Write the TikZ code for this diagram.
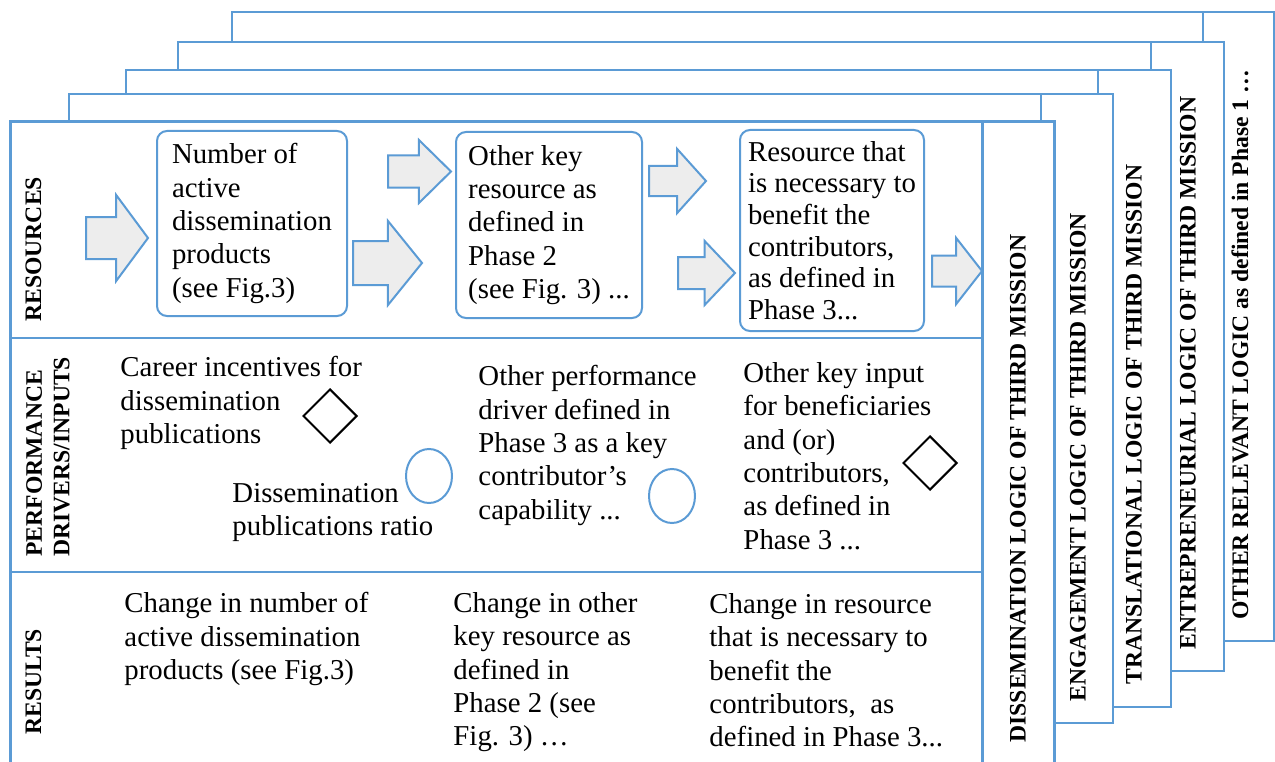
\documentclass[tikz,border=0pt]{standalone}
\usepackage{fontspec}
\setmainfont{Liberation Serif}
\usetikzlibrary{shapes.geometric,shapes.arrows}
\definecolor{frameblue}{HTML}{5B9BD5}
\definecolor{arrowgray}{HTML}{EDEDED}
\newcommand{\pxu}{0.4167pt}

\begin{document}
\begin{tikzpicture}[x=0.4167pt,y=-0.4167pt]
\tikzstyle{frame}=[draw=frameblue,line width=2*\pxu,fill=white]
\tikzstyle{mainframe}=[draw=frameblue,line width=3*\pxu,fill=white]
\tikzstyle{sepline}=[draw=frameblue,line width=2*\pxu]
\tikzstyle{logic}=[rotate=90,anchor=west,inner sep=0,font=\fontsize{9.85}{11.5}\selectfont\bfseries]
\tikzstyle{rowlabel}=[logic,align=left]
\tikzstyle{resbox}=[draw=frameblue,line width=2*\pxu,rounded corners=10*\pxu,align=left,inner sep=0,font=\fontsize{12}{13.9}\selectfont]
\tikzstyle{txt}=[anchor=north west,inner sep=0,align=left,font=\fontsize{12}{13.9}\selectfont]
\tikzstyle{blockarrow}=[single arrow,draw=frameblue,fill=arrowgray,line width=2*\pxu,anchor=tail,inner xsep=0]
\tikzstyle{ratio}=[ellipse,draw=frameblue,line width=2*\pxu,minimum width=46*\pxu,minimum height=54*\pxu,inner sep=0]
\tikzstyle{incentive}=[diamond,draw=black,line width=2*\pxu,minimum width=54*\pxu,minimum height=54*\pxu,inner sep=0]

\useasboundingbox (0,0) rectangle (1275,762);

\foreach \l/\t/\s/\r/\b in {232/12/1203/1273.5/641,178/42/1151/1224/671,126/70/1098/1171/707,69/94/1041/1113/723}{
  \draw[frame] (\l,\t) rectangle (\r,\b);
  \draw[sepline] (\s,\t) -- (\s,\b);
}
\draw[mainframe] (10,122) rectangle (1054,768);
\draw[sepline,line width=3*\pxu] (982,122) -- (982,768);
\draw[sepline] (10,338) -- (982,338);
\draw[sepline] (10,572) -- (982,572);

\node[logic] (dissemination) at (1018,743) {DISSEMINATION LOGIC OF THIRD MISSION};
\node[logic] (engagement) at (1078,702) {ENGAGEMENT LOGIC OF THIRD MISSION};
\node[logic] (translational) at (1134,685) {TRANSLATIONAL LOGIC OF THIRD MISSION};
\node[logic] (entrepreneurial) at (1188,650) {ENTREPRENEURIAL LOGIC OF THIRD MISSION};
\node[logic] (otherlogic) at (1240,620) {OTHER RELEVANT LOGIC as defined in Phase 1 …};

\node[rowlabel] (resources) at (33.5,322) {RESOURCES};
\node[rowlabel] (drivers) at (48,557) {PERFORMANCE\\DRIVERS/INPUTS};
\node[rowlabel] (results) at (33.5,735) {RESULTS};

\node[resbox,minimum width=190*\pxu,minimum height=185*\pxu] (numprod) at (252,223.5)
  {Number of\\active\\dissemination\\products\\(see Fig.3)};
\node[resbox,minimum width=186*\pxu,minimum height=186*\pxu] (otherres) at (549,225)
  {Other key\\resource as\\defined in\\Phase 2\\(see Fig. 3) ...};
\node[resbox,minimum width=184*\pxu,minimum height=201*\pxu,font=\fontsize{12}{13.2}\selectfont] (benefit) at (832,230.5)
  {Resource that\\is necessary to\\benefit the\\contributors,\\as defined in\\Phase 3...};

\foreach \n/\x/\y/\h/\s/\e/\a in {arrA/85/238/62/40/22/107,arrB/387/171.5/63/30/15.5/89,arrC/352/263/69/42/20/102,arrD/648/181/57/28/17/96,arrE/677/273/57/30/16/93,arrF/931/271/50/29/17.5/104}
  \node[blockarrow,minimum height=\h*\pxu,inner ysep=\s/2*\pxu,single arrow head extend=\e*\pxu,single arrow tip angle=\a] (\n) at (\x,\y) {};

\node[txt] (careertxt) at (120,356) {Career incentives for\\dissemination\\publications};
\node[incentive] (career) at (330,416) {};
\node[txt] (ratiotxt) at (232,483) {Dissemination\\publications ratio};
\node[ratio] (pubratio) at (429,476) {};
\node[txt] (drivertxt) at (478,365) {Other performance\\driver defined in\\Phase 3 as a key\\contributor’s\\capability ...};
\node[ratio] (capab) at (672,496) {};
\node[txt] (inputtxt) at (743,362) {Other key input\\for beneficiaries\\and (or)\\contributors,\\as defined in\\Phase 3 ...};
\node[incentive] (keyinput) at (930,463) {};

\node[txt] (chnum) at (124,592) {Change in number of\\active dissemination\\products (see Fig.3)};
\node[txt] (chother) at (453,592) {Change in other\\key resource as\\defined in\\Phase 2 (see\\Fig. 3) …};
\node[txt] (chbenefit) at (709,593) {Change in resource\\that is necessary to\\benefit the\\contributors,~ as\\defined in Phase 3...};
\end{tikzpicture}
\end{document}
